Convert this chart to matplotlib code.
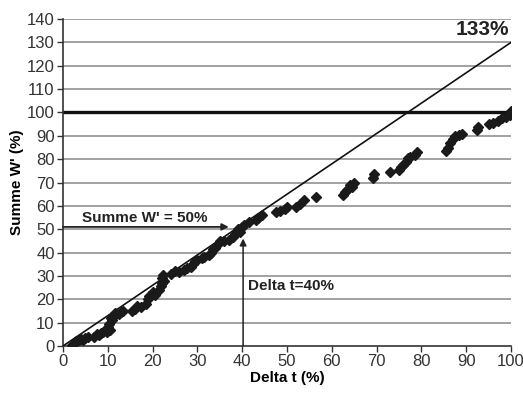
"""Summe W' vs Delta t with the 133% reference line."""
import matplotlib

matplotlib.use("Agg")
import matplotlib.pyplot as plt
from matplotlib import font_manager

# measured points (Delta t %, Summe W' %)
delta_t = [
    2.0, 2.5, 3.0, 3.5, 4.0, 4.5, 5.0, 5.5, 7.0, 7.5, 8.0, 8.5, 9.0,
    9.8, 10.0, 10.3, 10.5, 10.8, 11.0, 11.3, 11.6, 12.5, 13.0, 13.5,
    15.5, 16.0, 16.5, 17.5, 18.5, 19.0, 19.3, 19.6, 20.0, 20.5, 21.5,
    21.8, 22.0, 22.2, 22.4, 22.6, 24.0, 25.0, 26.0, 27.0, 27.7, 28.5,
    29.0, 29.5, 30.0, 31.0, 31.5, 32.5, 33.0, 33.5, 34.0, 34.5, 35.0,
    36.0, 37.0, 38.0, 38.5, 39.0, 39.5, 40.0, 40.5, 41.5, 43.0, 43.5,
    44.5, 47.5, 48.5, 49.5, 50.0, 52.0, 53.0, 53.7, 56.5, 62.5, 63.0,
    63.5, 64.0, 64.5, 65.0, 69.3, 69.5, 73.0, 75.0, 75.5, 76.0, 76.5,
    77.0, 77.5, 78.5, 79.0, 85.5, 86.0, 86.5, 87.0, 87.5, 88.5, 89.0,
    92.5, 92.7, 95.0, 96.0, 97.0, 98.0, 99.0, 99.7, 100.0,
]
summe_w = [
    0.5, 1.0, 2.0, 2.5, 3.0, 2.5, 3.5, 4.0, 4.0, 5.0, 4.5, 5.5, 6.0,
    6.0, 8.0, 9.5, 7.0, 12.0, 11.0, 13.0, 14.0, 13.5, 14.5, 15.0,
    15.0, 16.0, 17.0, 16.5, 18.0, 20.0, 21.5, 22.0, 23.0, 22.0, 24.0,
    25.5, 27.0, 29.0, 30.5, 28.0, 31.0, 32.0, 31.5, 32.5, 33.5, 34.0,
    35.0, 36.5, 37.0, 37.5, 38.0, 39.0, 40.0, 41.5, 42.0, 43.5, 45.0,
    45.0, 45.5, 46.5, 48.0, 50.0, 49.0, 51.0, 52.0, 53.0, 54.0, 55.0,
    56.0, 57.5, 58.0, 58.5, 59.5, 59.5, 61.0, 62.5, 64.0, 64.5, 66.0,
    67.0, 69.0, 68.0, 70.0, 72.0, 73.5, 74.5, 75.5, 76.5, 77.5, 79.0,
    80.5, 81.0, 82.0, 83.0, 83.5, 85.0, 87.0, 88.5, 90.0, 90.5, 91.0,
    92.5, 94.0, 95.0, 95.5, 96.5, 97.5, 98.0, 99.0, 100.5,
]

ref_x = [0, 100]
ref_y = [0, 130]
x_ticks = list(range(0, 101, 10))
y_ticks = list(range(0, 141, 10))

names = {f.name for f in font_manager.fontManager.ttflist}
narrow = "Liberation Sans Narrow" if "Liberation Sans Narrow" in names else "Liberation Sans"
plt.rcParams["font.family"] = [narrow, "DejaVu Sans"]

fig = plt.figure(figsize=(5.23, 3.98), dpi=100)
ax = fig.add_axes([0.1205, 0.1307, 0.8565, 0.8213])

for y in y_ticks[1:]:
    ax.axhline(y, color="#9a9a9a", lw=1.3, zorder=1)
ax.axhline(100, color="#111111", lw=2.4, zorder=2)

ax.plot(ref_x, ref_y, color="#111111", lw=1.2, zorder=3)
ax.plot(delta_t, summe_w, linestyle="none", marker="D", ms=4.8,
        color="#1a1a1a", zorder=4)

ax.annotate("", xy=(37, 51), xytext=(0, 51),
            arrowprops=dict(arrowstyle="-|>", color="#222222", lw=1.3,
                            mutation_scale=10, shrinkA=0, shrinkB=0))
ax.annotate("", xy=(40.2, 46), xytext=(40.2, 0),
            arrowprops=dict(arrowstyle="-|>", color="#222222", lw=1.1,
                            mutation_scale=10, shrinkA=0, shrinkB=0))

ax.text(4.2, 55, "Summe W' = 50%", fontsize=11, fontweight="bold",
        ha="left", va="center", color="#222222")
ax.text(41.3, 25.5, "Delta t=40%", fontsize=11, fontweight="bold",
        ha="left", va="center", color="#222222")
ax.text(99.5, 131.5, "133%", fontsize=15, fontweight="bold",
        ha="right", va="bottom", color="#222222")

ax.set_xlim(0, 100)
ax.set_ylim(0, 140)
ax.set_xticks(x_ticks)
ax.set_yticks(y_ticks)
ax.tick_params(axis="both", direction="out", length=4, width=1,
               labelsize=12, colors="#333333", pad=2)
for side in ("top", "right"):
    ax.spines[side].set_visible(False)
for side in ("left", "bottom"):
    ax.spines[side].set_color("#333333")
    ax.spines[side].set_linewidth(1.2)

ax.set_xlabel("Delta t (%)", fontsize=11, fontweight="bold", labelpad=1)
ax.set_ylabel("Summe W' (%)", fontsize=11, fontweight="bold", labelpad=2)

fig.savefig("out.png", dpi=100)
